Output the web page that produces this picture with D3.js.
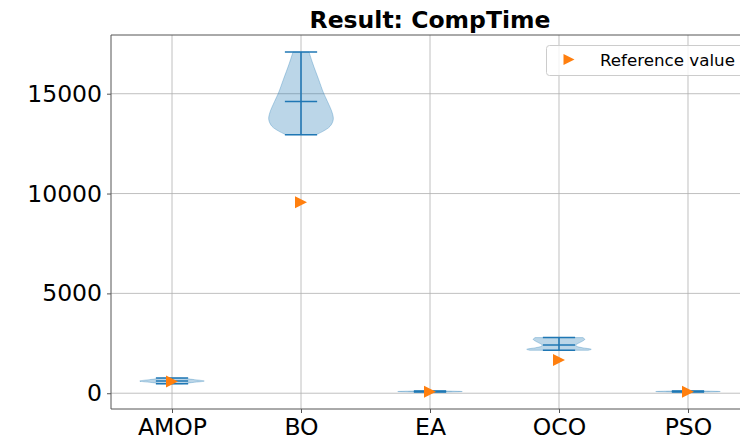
<!DOCTYPE html>
<html>
<head>
<meta charset="utf-8">
<script src="https://cdn.jsdelivr.net/npm/d3@7"></script>
<style>
  html, body { margin: 0; padding: 0; background: #fff; }
  svg { display: block; font-family: "DejaVu Sans", sans-serif; }
</style>
</head>
<body>
<svg id="chart" width="740" height="440"></svg>
<script>
// Computation time per optimiser
const methods = ["AMOP", "BO", "EA", "OCO", "PSO"];
const minVals = [470, 12950, 60, 2150, 60];
const medianVals = [615, 14615, 85, 2415, 85];
const maxVals = [760, 17085, 110, 2785, 110];
const referenceVals = [590, 9565, 70, 1665, 75];
const yTicks = [0, 5000, 10000, 15000];

// Kernel density outlines: [time, relative density]
const densityAMOP = [[470, 0.3], [540, 0.65], [610, 1.0], [680, 0.7], [760, 0.25]];
const densityBO = [[12950, 0.47], [13115, 0.68], [13365, 0.9], [13700, 1.0], [14035, 0.97],
                   [14615, 0.82], [15035, 0.7], [15700, 0.55], [16535, 0.36], [17085, 0.25]];
const densityEA = [[60, 0.5], [85, 1.0], [110, 0.5]];
const densityOCO = [[2150, 0.9], [2200, 1.0], [2280, 0.72], [2350, 0.55], [2415, 0.52],
                    [2500, 0.6], [2600, 0.72], [2700, 0.8], [2785, 0.74]];
const densityPSO = [[60, 0.5], [85, 1.0], [110, 0.5]];
const densities = [densityAMOP, densityBO, densityEA, densityOCO, densityPSO];

const svg = d3.select("#chart");
const plotLeft = 111, plotTop = 35, plotBottom = 409, plotRight = 749;

const x = d3.scaleLinear().domain([0.527, 5.473]).range([plotLeft, plotRight]);
const y = d3.scaleLinear().domain([-790, 17940]).range([plotBottom, plotTop]);
const violinWidth = 0.5;
const half = x(1 + violinWidth / 2) - x(1);
const capHalf = x(1 + violinWidth / 4) - x(1);

const blue = "#1f77b4", orange = "#ff7f0e";

// grid
svg.append("g").selectAll("line").data(yTicks).join("line")
  .attr("x1", plotLeft).attr("x2", plotRight)
  .attr("y1", d => y(d)).attr("y2", d => y(d))
  .attr("stroke", "#b0b0b0").attr("stroke-width", 0.8);
svg.append("g").selectAll("line").data(methods).join("line")
  .attr("x1", (d, i) => x(i + 1)).attr("x2", (d, i) => x(i + 1))
  .attr("y1", plotTop).attr("y2", plotBottom)
  .attr("stroke", "#b0b0b0").attr("stroke-width", 0.8);

// violins
const g = svg.append("g");
densities.forEach((dens, i) => {
  const cx = x(i + 1);
  const area = d3.area()
    .y(d => y(d[0]))
    .x0(d => cx - d[1] * half)
    .x1(d => cx + d[1] * half)
    .curve(d3.curveCatmullRom);
  g.append("path").attr("d", area(dens))
    .attr("fill", blue).attr("fill-opacity", 0.3)
    .attr("stroke", blue).attr("stroke-opacity", 0.3).attr("stroke-width", 1);
  g.append("line")
    .attr("x1", cx).attr("x2", cx)
    .attr("y1", y(minVals[i])).attr("y2", y(maxVals[i]))
    .attr("stroke", blue).attr("stroke-width", 1.5);
  [minVals[i], medianVals[i], maxVals[i]].forEach(v => {
    g.append("line")
      .attr("x1", cx - capHalf).attr("x2", cx + capHalf)
      .attr("y1", y(v)).attr("y2", y(v))
      .attr("stroke", blue).attr("stroke-width", 1.5);
  });
});

// right-pointing triangle marker
function triRight(cx, cy, s) {
  const h = s / 2;
  return `M${cx + h},${cy}L${cx - h},${cy - h}L${cx - h},${cy + h}Z`;
}
svg.append("g").selectAll("path").data(referenceVals).join("path")
  .attr("d", (d, i) => triRight(x(i + 1), y(d), 12))
  .attr("fill", orange);

// spines
const spine = svg.append("g").attr("stroke", "#555").attr("stroke-width", 1).attr("fill", "none");
spine.append("line").attr("x1", plotLeft).attr("x2", plotLeft).attr("y1", plotTop).attr("y2", plotBottom);
spine.append("line").attr("x1", plotLeft).attr("x2", plotRight).attr("y1", plotTop).attr("y2", plotTop);
spine.append("line").attr("x1", plotLeft).attr("x2", plotRight).attr("y1", plotBottom).attr("y2", plotBottom);
spine.append("line").attr("x1", plotRight).attr("x2", plotRight).attr("y1", plotTop).attr("y2", plotBottom);

// axes
const yAxis = svg.append("g").attr("transform", `translate(${plotLeft},0)`)
  .call(d3.axisLeft(y).tickValues(yTicks).tickFormat(d3.format("d")).tickSize(4).tickPadding(5));
const xAxis = svg.append("g").attr("transform", `translate(0,${plotBottom})`)
  .call(d3.axisBottom(x).tickValues([1, 2, 3, 4, 5]).tickFormat((d, i) => methods[i]).tickSize(4).tickPadding(5));
[yAxis, xAxis].forEach(a => {
  a.select(".domain").remove();
  a.selectAll(".tick line").attr("stroke", "#555");
  a.selectAll(".tick text").attr("font-size", 23.5).attr("fill", "#000")
    .attr("font-family", "DejaVu Sans, sans-serif");
});

// title
svg.append("text").attr("x", (plotLeft + plotRight) / 2).attr("y", 28)
  .attr("text-anchor", "middle").attr("font-weight", "bold").attr("font-size", 23.5)
  .text("Result: CompTime");

// legend
const lg = svg.append("g");
lg.append("rect").attr("x", 546.5).attr("y", 45.5).attr("width", 220).attr("height", 30)
  .attr("rx", 3).attr("fill", "#fff").attr("fill-opacity", 0.8)
  .attr("stroke", "#ccc").attr("stroke-width", 1);
lg.append("path").attr("d", triRight(569, 59.5, 11)).attr("fill", orange);
lg.append("text").attr("x", 600).attr("y", 65.5).attr("font-size", 16.7).text("Reference value");
</script>
</body>
</html>
